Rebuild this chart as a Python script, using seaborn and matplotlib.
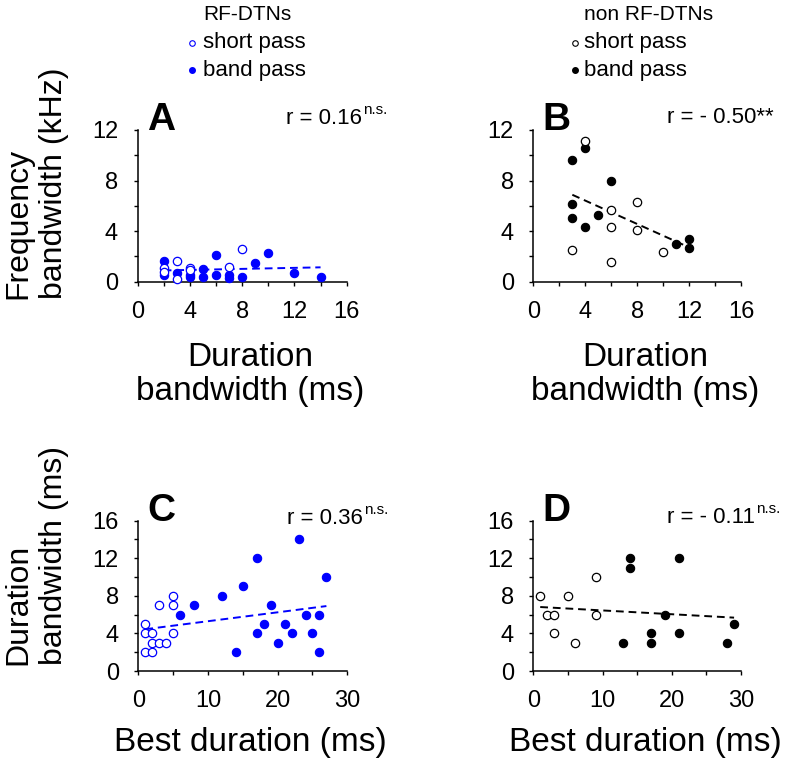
import numpy as np
import matplotlib
matplotlib.use("Agg")
import matplotlib.pyplot as plt
from matplotlib.lines import Line2D
import seaborn as sns

# panel A: RF-DTNs, duration bandwidth vs frequency bandwidth
a_short_x = [2, 2, 3, 3, 4, 4, 7, 8]
a_short_y = [1.1, 0.8, 1.6, 0.2, 1.1, 0.9, 1.2, 2.6]
a_band_x = [2, 2, 3, 4, 4, 5, 5, 6, 6, 7, 7, 8, 9, 10, 12, 14]
a_band_y = [1.6, 0.5, 0.65, 0.5, 0.4, 1.0, 0.35, 2.1, 0.55, 0.5, 0.3, 0.4, 1.5, 2.3, 0.7, 0.35]

# panel B: non RF-DTNs
b_short_x = [4, 6, 8, 6, 8, 3, 6, 10]
b_short_y = [11.15, 5.7, 6.26, 4.33, 4.06, 2.5, 1.58, 2.3]
b_band_x = [3, 4, 6, 3, 3, 4, 5, 11, 12, 12]
b_band_y = [9.6, 10.6, 8.0, 6.1, 5.0, 4.33, 5.27, 2.97, 3.4, 2.65]

# panel C: RF-DTNs, best duration vs duration bandwidth
c_short_x = [1, 2, 1, 1, 2, 2, 3, 4, 3, 5, 5, 5]
c_short_y = [2, 2, 4, 5, 4, 3, 3, 3, 7, 8, 7, 4]
c_band_x = [6, 8, 12, 14, 15, 17, 17, 18, 19, 20, 21, 22, 23, 24, 25, 26, 26, 27]
c_band_y = [6, 7, 8, 2, 9, 12, 4, 5, 7, 3, 5, 4, 14, 6, 4, 6, 2, 10]

# panel D: non RF-DTNs
d_short_x = [1, 2, 3, 3, 5, 6, 9, 9]
d_short_y = [8, 6, 6, 4, 8, 3, 10, 6]
d_band_x = [13, 14, 14, 17, 17, 19, 21, 21, 28, 29]
d_band_y = [3, 12, 11, 4, 3, 6, 12, 4, 3, 5]

r_main = ["r = 0.16", "r = - 0.50**", "r = 0.36", "r = - 0.11"]
r_sup = ["n.s.", "", "n.s.", "n.s."]

sns.set_style("ticks", {"axes.edgecolor": "black", "xtick.color": "black",
                        "ytick.color": "black", "text.color": "black",
                        "axes.labelcolor": "black"})
plt.rcParams["font.family"] = ["Liberation Sans", "DejaVu Sans"]

W, H = 787, 764
fig = plt.figure(figsize=(W / 100, H / 100), dpi=100)
renderer = fig.canvas.get_renderer()


def fx(p):
    return p / W


def fy(p):
    return 1 - p / H


def box(l, t, r, b):
    return [l / W, 1 - b / H, (r - l) / W, (b - t) / H]


BLUE = "#0000ff"


def panel(rect, sx, sy, bx, by, color, xmax, xmaj, ymax):
    ax = fig.add_axes(rect)
    sns.regplot(x=np.r_[sx, bx], y=np.r_[sy, by], ax=ax, scatter=False, ci=None,
                truncate=True, line_kws=dict(color=color, ls=(0, (4, 2.5)), lw=1.4))
    sns.scatterplot(x=bx, y=by, ax=ax, color=color, edgecolor=color, s=36,
                    linewidth=0.8, clip_on=False, zorder=3)
    sns.scatterplot(x=sx, y=sy, ax=ax, color="white", edgecolor=color, s=36,
                    linewidth=0.9, clip_on=False, zorder=4)
    ax.set_xlim(0, xmax)
    ax.set_ylim(0, ymax)
    ax.set_xticks(np.arange(0, xmax + 1, xmaj))
    ax.set_xticks(np.arange(0, xmax + 1, xmaj / 2), minor=True)
    ax.set_yticks(np.arange(0, ymax + 1, 4))
    ax.set_yticks(np.arange(0, ymax + 1, 2), minor=True)
    ax.tick_params(which="both", direction="out", length=3, width=1)
    ax.tick_params(which="major", labelsize=17, pad=11)
    for s in ("left", "bottom"):
        ax.spines[s].set_linewidth(1.1)
    sns.despine(ax=ax)
    ax.set_xlabel("")
    ax.set_ylabel("")
    return ax


panel(box(137.5, 130, 346.7, 281.7), a_short_x, a_short_y, a_band_x, a_band_y, BLUE, 16, 4, 12)
panel(box(533.3, 130, 741.5, 281.5), b_short_x, b_short_y, b_band_x, b_band_y, "black", 16, 4, 12)
panel(box(138.3, 520.7, 347.3, 671), c_short_x, c_short_y, c_band_x, c_band_y, BLUE, 30, 10, 16)
panel(box(533.3, 520.7, 741, 671), d_short_x, d_short_y, d_band_x, d_band_y, "black", 30, 10, 16)

# panel letters and r values
for letter, (lx, ly) in zip("ABCD", [(147, 130), (542, 130), (147, 521), (542, 521)]):
    fig.text(fx(lx), fy(ly), letter, fontsize=28, fontweight="bold", va="baseline")
for lab, sup, (rx, ry) in zip(r_main, r_sup, [(286, 124), (667, 123), (287, 524), (667, 523)]):
    t = fig.text(fx(rx), fy(ry), lab, fontsize=16, va="baseline")
    if sup:
        bb = t.get_window_extent(renderer)
        fig.text((bb.x1 + 1) / W, fy(ry - 10), sup, fontsize=11, va="baseline")

# axis labels
for cx in (250, 645):
    fig.text(fx(cx), fy(366), "Duration", fontsize=24, ha="center", va="baseline")
    fig.text(fx(cx), fy(400), "bandwidth (ms)", fontsize=24, ha="center", va="baseline")
    fig.text(fx(cx), fy(751), "Best duration (ms)", fontsize=24, ha="center", va="baseline")
for ybot, l1, l2 in [(299, "Frequency", "bandwidth (kHz)"), (665, "Duration", "bandwidth (ms)")]:
    fig.text(fx(26), fy(ybot), l1, fontsize=23, rotation=90, rotation_mode="anchor",
             ha="left", va="baseline")
    fig.text(fx(62), fy(ybot), l2, fontsize=23, rotation=90, rotation_mode="anchor",
             ha="left", va="baseline")

# group headers and legends
for hx, mx, title, col in [(203, 192, "RF-DTNs", BLUE), (584, 575, "non RF-DTNs", "black")]:
    fig.text(fx(hx), fy(20), title, fontsize=15, va="baseline")
    fig.text(fx(hx), fy(48), "short pass", fontsize=16, va="baseline")
    fig.text(fx(hx), fy(76), "band pass", fontsize=16, va="baseline")
    fig.add_artist(Line2D([fx(mx)], [fy(43)], transform=fig.transFigure, marker="o", ms=4,
                          mfc="white", mec=col, mew=0.8, ls=""))
    fig.add_artist(Line2D([fx(mx)], [fy(70)], transform=fig.transFigure, marker="o", ms=4,
                          mfc=col, mec=col, ls=""))

fig.savefig("out.png", dpi=100)
